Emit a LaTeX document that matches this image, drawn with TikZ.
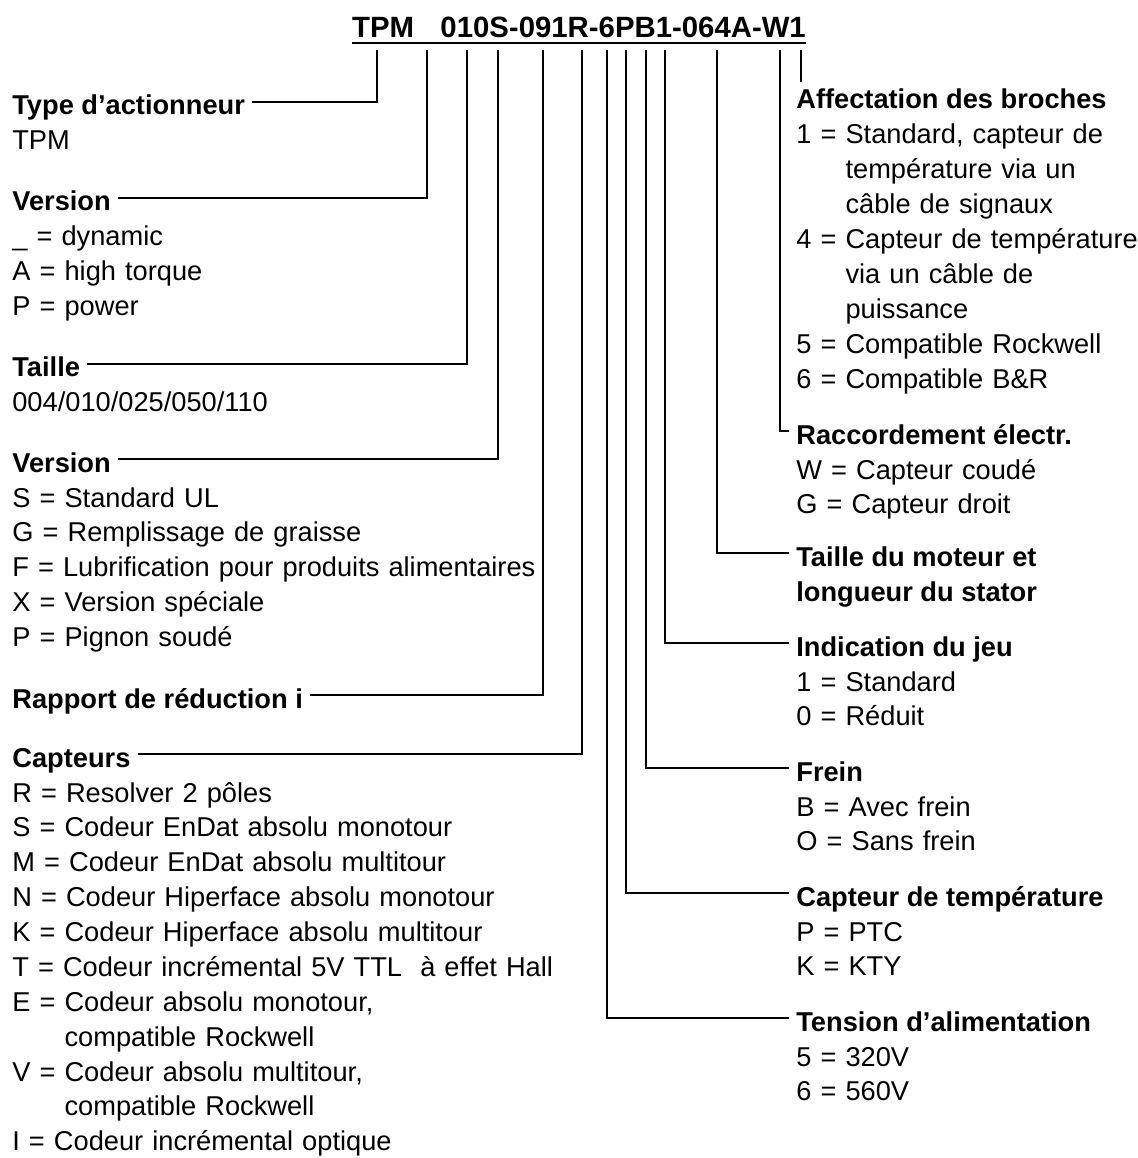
\documentclass[tikz,border=0pt]{standalone}
\usepackage{fontspec}
\setmainfont{Liberation Sans}
\usepackage{tikz}

\begin{document}
\begin{tikzpicture}[
    hdr/.style={inner sep=0pt, anchor=base west, text height=15pt, text depth=0pt,
      font=\fontsize{15.5}{19.85}\selectfont\bfseries},
    items/.style={inner sep=0pt, anchor=base west, text width=12cm, align=left,
      font=\fontsize{15.5}{19.85}\selectfont},
    lead/.style={line width=1.3pt}
  ]
  \useasboundingbox (0,0) rectangle (22.74,-23.16);

  % Type code
  \node[inner sep=0pt, anchor=base, font=\fontsize{16.7}{20}\selectfont\bfseries] (code) at (11.58,-0.76)
    {TPM\hspace{0.9em}010S-091R-6PB1-064A-W1};
  \draw[line width=1.6pt] ([yshift=-2.8pt]code.base west) -- ([yshift=-2.8pt]code.base east);

  \foreach \name/\x in {cType/7.54, cVer/8.54, cSize/9.34, cVar/9.96, cRatio/10.86, cEnc/11.64,
      cVolt/12.14, cTemp/12.52, cBrake/12.92, cPlay/13.30, cMot/14.34, cConn/15.60, cPins/16.02}
    \coordinate (\name) at (\x,-1.0);

  % Left column
  \node[hdr] (hType) at (0.24,-2.30) {Type d’actionneur};
  \node[items] (lType) at ([yshift=-0.7cm]hType.base west) {TPM};

  \node[hdr] (hVer) at (0.24,-4.22) {Version};
  \node[items] (lVer) at ([yshift=-0.7cm]hVer.base west) {\_ = dynamic\\A = high torque\\P = power};

  \node[hdr] (hSize) at (0.24,-7.54) {Taille};
  \node[items] (lSize) at ([yshift=-0.7cm]hSize.base west) {004/010/025/050/110};

  \node[hdr] (hVar) at (0.24,-9.44) {Version};
  \node[items] (lVar) at ([yshift=-0.7cm]hVar.base west) {S = Standard UL\\G = Remplissage de graisse\\
    F = Lubrification pour produits alimentaires\\X = Version spéciale\\P = Pignon soudé};

  \node[hdr] (hRatio) at (0.24,-14.16) {Rapport de réduction i};

  \node[hdr] (hEnc) at (0.24,-15.34) {Capteurs};
  \node[items] (lEnc) at ([yshift=-0.7cm]hEnc.base west) {R = Resolver 2 pôles\\
    S = Codeur EnDat absolu monotour\\M = Codeur EnDat absolu multitour\\
    N = Codeur Hiperface absolu monotour\\K = Codeur Hiperface absolu multitour\\
    T = Codeur incrémental 5V TTL\ \ à effet Hall\\
    E = Codeur absolu monotour,\\\phantom{E = }compatible Rockwell\\
    V = Codeur absolu multitour,\\\phantom{V = }compatible Rockwell\\
    I = Codeur incrémental optique};

  % Right column
  \node[hdr] (hPins) at (15.92,-2.18) {Affectation des broches};
  \node[items] (lPins) at ([yshift=-0.7cm]hPins.base west) {1 = Standard, capteur de\\
    \phantom{1 = }température via un\\\phantom{1 = }câble de signaux\\
    4 = Capteur de température\\\phantom{4 = }via un câble de\\\phantom{4 = }puissance\\
    5 = Compatible Rockwell\\6 = Compatible B\&R};

  \node[hdr] (hConn) at (15.92,-8.88) {Raccordement électr.};
  \node[items] (lConn) at ([yshift=-0.7cm]hConn.base west) {W = Capteur coudé\\G = Capteur droit};

  \node[hdr] (hMot) at (15.92,-11.32) {Taille du moteur et};
  \node[hdr] (hMotB) at ([yshift=-0.7cm]hMot.base west) {longueur du stator};

  \node[hdr] (hPlay) at (15.92,-13.12) {Indication du jeu};
  \node[items] (lPlay) at ([yshift=-0.7cm]hPlay.base west) {1 = Standard\\0 = Réduit};

  \node[hdr] (hBrake) at (15.92,-15.62) {Frein};
  \node[items] (lBrake) at ([yshift=-0.7cm]hBrake.base west) {B = Avec frein\\O = Sans frein};

  \node[hdr] (hTemp) at (15.92,-18.12) {Capteur de température};
  \node[items] (lTemp) at ([yshift=-0.7cm]hTemp.base west) {P = PTC\\K = KTY};

  \node[hdr] (hVolt) at (15.92,-20.62) {Tension d’alimentation};
  \node[items] (lVolt) at ([yshift=-0.7cm]hVolt.base west) {5 = 320V\\6 = 560V};

  % Leaders
  \draw[lead] ([xshift=4pt]hType.east) -| (cType);
  \draw[lead] ([xshift=4pt]hVer.east) -| (cVer);
  \draw[lead] ([xshift=4pt]hSize.east) -| (cSize);
  \draw[lead] ([xshift=4pt]hVar.east) -| (cVar);
  \draw[lead] ([xshift=4pt]hRatio.east) -| (cRatio);
  \draw[lead] ([xshift=4pt]hEnc.east) -| (cEnc);
  \draw[lead] (cVolt) |- ([xshift=-4pt]hVolt.west);
  \draw[lead] (cTemp) |- ([xshift=-4pt]hTemp.west);
  \draw[lead] (cBrake) |- ([xshift=-4pt]hBrake.west);
  \draw[lead] (cPlay) |- ([xshift=-4pt]hPlay.west);
  \draw[lead] (cMot) |- ([xshift=-4pt]hMot.west);
  \draw[lead] (cConn) |- ([xshift=-4pt]hConn.west);
  \draw[lead] (cPins) -- (cPins |- hPins.north);
\end{tikzpicture}
\end{document}
